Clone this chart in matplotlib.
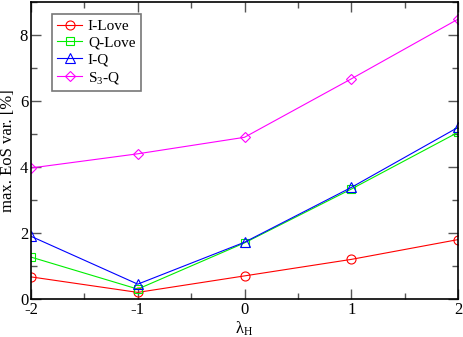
import matplotlib
matplotlib.use("Agg")
from matplotlib import pyplot as plt
from matplotlib.ticker import MultipleLocator

plt.rcParams['font.family'] = ['Liberation Serif', 'DejaVu Serif']
plt.rcParams['mathtext.fontset'] = 'custom'
plt.rcParams['mathtext.rm'] = 'Liberation Serif'
plt.rcParams['mathtext.it'] = 'Liberation Serif'

lam = [-2, -1, 0, 1, 2]
i_love = [0.67, 0.20, 0.70, 1.20, 1.80]
q_love = [1.27, 0.30, 1.70, 3.33, 5.05]
i_q = [1.90, 0.45, 1.72, 3.38, 5.20]
s3_q = [3.97, 4.40, 4.90, 6.67, 8.48]

fig = plt.figure(figsize=(4.63, 3.37), dpi=100)
ax = fig.add_axes([31/463, 38/337, 427/463, 297/337])

ms = 6.5
ax.plot(lam, i_love, color='#ff0000', lw=0.8, marker='o', ms=ms, mfc='none', mew=0.8, label='I-Love')
ax.plot(lam, q_love, color='#00ee00', lw=0.8, marker='s', ms=ms-0.5, mfc='none', mew=0.8, label='Q-Love')
ax.plot(lam, i_q, color='#0000ff', lw=0.8, marker='^', ms=ms+0.5, mfc='none', mew=0.8, label='I-Q')
ax.plot(lam, s3_q, color='#ff00ff', lw=0.8, marker='D', ms=ms-1, mfc='none', mew=0.8, label='S$_3$-Q')

ax.set_xlim(-2, 2)
ax.set_ylim(0, 9)
ax.set_xticks(lam)
ax.set_xticklabels(['-2', '-1', '0', '1', '2'])
ax.xaxis.set_minor_locator(MultipleLocator(0.5))
ax.yaxis.set_major_locator(MultipleLocator(2))
ax.yaxis.set_minor_locator(MultipleLocator(1))
ax.tick_params(which='both', direction='in', top=True, right=True, labelsize=12, width=1, color='#555555', pad=2)
ax.tick_params(which='major', length=7)
ax.tick_params(which='minor', length=4)
for s in ax.spines.values():
    s.set_linewidth(1.2)

ax.set_xlabel(r'$\lambda_{\rm H}$', fontsize=12, labelpad=1)
ax.set_ylabel('max. EoS var. [%]', fontsize=12, labelpad=3)

leg = ax.legend(loc='upper left', bbox_to_anchor=(21/427, 285/297), fontsize=11, frameon=True,
                fancybox=False, edgecolor='#555555', handlelength=1.6, handletextpad=0.4,
                borderpad=0.35, labelspacing=0.2, borderaxespad=0)
leg.get_frame().set_linewidth(1.2)

fig.savefig('out.png', dpi=100)
